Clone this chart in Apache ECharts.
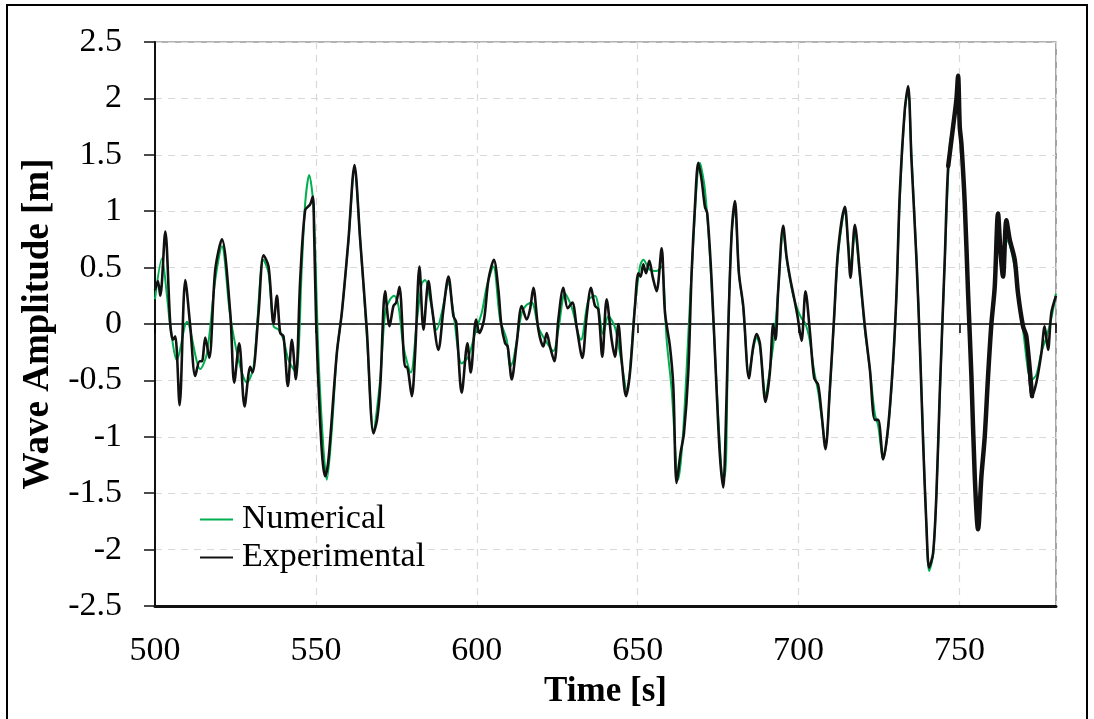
<!DOCTYPE html>
<html>
<head>
<meta charset="utf-8">
<title>Wave Amplitude</title>
<script src="https://cdn.jsdelivr.net/npm/echarts@6/dist/echarts.min.js"></script>
<style>
  html, body { margin: 0; padding: 0; background: #ffffff; }
  #chart { width: 1094px; height: 719px; }
</style>
</head>
<body>
<div id="chart"></div>
<script>
// Numerical wave amplitude time history [s, m]
const numTime = [
  500.0, 502.16, 503.72, 504.75, 506.82, 509.93, 514.07, 516.14, 518.72, 520.79,
  523.38, 526.49, 528.56, 530.63, 533.73, 535.3, 536.84, 538.39, 539.94, 541.5,
  543.77, 545.64, 546.67, 547.91, 549.26, 550.81, 552.36, 553.4, 554.95, 556.5,
  558.06, 560.13, 561.99, 563.75, 565.82, 567.89, 569.96, 571.52, 573.08, 574.32,
  575.66, 577.22, 579.49, 581.36, 582.91, 583.94, 585.5, 587.57, 589.12, 591.19,
  592.74, 595.33, 597.4, 599.47, 601.54, 603.09, 605.16, 607.23, 609.3, 610.34,
  611.37, 613.96, 615.51, 617.07, 619.14, 621.21, 623.79, 625.35, 627.42, 629.49,
  632.38, 634.66, 636.73, 639.32, 640.87, 642.95, 644.51, 646.58, 649.16, 650.72,
  651.75, 653.82, 655.89, 657.44, 658.99, 660.55, 662.62, 664.17, 666.76, 669.35,
  670.9, 672.45, 676.07, 677.11, 678.2, 679.2, 680.2, 681.46, 682.8, 684.56,
  685.91, 686.94, 687.98, 689.74, 691.08, 692.5, 693.67, 695.22, 696.26, 697.29,
  698.33, 699.67, 700.92, 702.16, 703.5, 704.85, 706.09, 707.13, 708.37, 709.71,
  711.06, 712.3, 714.37, 715.42, 716.14, 717.49, 719.04, 720.59, 722.15, 723.7,
  724.73, 726.29, 727.84, 729.39, 730.43, 731.46, 733.01, 734.05, 735.08, 736.64,
  737.67, 738.71, 739.74, 740.57, 741.81, 742.85, 743.88, 745.43, 746.99, 748.02,
  749.05, 749.57, 750.09, 750.6, 751.64, 752.68, 753.71, 754.75, 755.78, 756.82,
  757.85, 758.89, 759.92, 760.96, 761.99, 763.54, 764.58, 765.61, 767.17, 768.2,
  769.75, 772.3, 773.89, 775.45, 777.0, 778.55, 780.0
];
const numValue = [
  0.22, 0.58, 0.25, -0.02, -0.32, 0.02, -0.40, -0.26, 0.39, 0.69,
  0.07, -0.38, -0.52, -0.38, 0.57, 0.45, -0.02, -0.05, -0.14, -0.32,
  -0.43, 0.51, 1.07, 1.32, 1.04, -0.29, -1.11, -1.38, -0.94, -0.26,
  0.10, 0.74, 1.39, 0.75, -0.10, -0.94, -0.50, 0.10, 0.22, 0.25,
  0.16, -0.20, -0.43, 0.02, 0.36, 0.39, 0.22, -0.05, 0.10, 0.36,
  0.10, -0.35, -0.29, -0.08, 0.10, 0.33, 0.51, 0.04, -0.14, -0.38,
  -0.32, 0.10, 0.17, 0.19, -0.03, -0.14, -0.24, -0.05, 0.27, 0.15,
  -0.14, 0.21, 0.25, -0.09, 0.07, -0.03, -0.26, -0.58, 0.16, 0.51,
  0.57, 0.48, 0.47, 0.51, -0.14, -0.58, -1.38, -0.94, 0.45, 1.43,
  1.19, 0.60, -1.32, -1.35, 0.05, 0.80, 1.03, 0.45, 0.14, -0.44,
  -0.22, -0.12, -0.20, -0.63, -0.40, -0.10, 0.30, 0.82, 0.58, 0.40,
  0.25, 0.13, 0.05, 0.00, -0.15, -0.42, -0.60, -0.82, -1.08, -0.60,
  0.05, 0.62, 1.00, 0.72, 0.50, 0.80, 0.42, -0.05, -0.40, -0.80,
  -0.90, -1.20, -0.93, -0.35, 0.25, 1.10, 1.88, 2.08, 1.50, 0.60,
  -0.15, -1.00, -1.80, -2.19, -2.05, -1.50, -0.65, 0.55, 1.60, 1.75,
  1.95, 2.05, 1.80, 1.60, 1.05, 0.25, -0.45, -1.30, -1.78, -1.35,
  -1.00, -0.50, -0.05, 0.30, 0.70, 0.55, 0.75, 0.70, 0.50, 0.30,
  -0.05, -0.50, -0.45, -0.25, -0.12, 0.05, 0.27
];

// Experimental (measured) wave amplitude time history [s, m]
const expTime = [
  500.0, 500.9, 501.65, 503.2, 504.75, 505.58, 506.3, 507.65, 509.41, 510.96,
  512.51, 513.86, 514.58, 515.62, 516.86, 518.72, 520.79, 523.38, 524.62, 526.17,
  527.83, 529.59, 530.31, 532.18, 533.73, 535.29, 536.84, 537.87, 538.91, 539.94,
  541.29, 542.53, 543.77, 545.12, 546.67, 548.22, 549.05, 549.46, 550.09, 551.12,
  552.05, 552.88, 553.71, 554.43, 556.5, 558.06, 560.13, 561.99, 563.75, 565.82,
  567.89, 569.0, 570.0, 571.52, 572.87, 574.11, 574.94, 575.97, 577.73, 578.25,
  579.8, 580.84, 582.18, 583.43, 584.98, 586.01, 588.08, 589.64, 591.19, 592.74,
  593.57, 595.33, 597.09, 598.12, 599.78, 600.81, 602.26, 603.61, 605.3, 606.72,
  607.6, 608.79, 609.61, 610.86, 612.41, 613.96, 615.51, 616.55, 617.58, 619.14,
  620.69, 621.72, 622.76, 624.1, 625.35, 626.9, 628.24, 629.69, 631.04, 632.8,
  634.14, 635.49, 636.73, 637.77, 639.01, 640.35, 641.91, 642.95, 643.99, 645.02,
  646.37, 647.61, 649.16, 650.2, 650.92, 651.75, 652.58, 653.61, 654.65, 655.89,
  657.44, 658.48, 660.03, 661.07, 662.1, 663.34, 664.38, 665.72, 666.76, 667.79,
  668.83, 669.86, 670.9, 671.62, 672.97, 674.52, 675.56, 676.59, 677.2, 678.2,
  679.2, 680.22, 681.46, 682.8, 684.56, 685.91, 686.94, 687.98, 689.74, 691.08,
  692.12, 692.84, 693.67, 695.22, 696.26, 697.29, 698.33, 699.67, 700.92, 702.16,
  703.5, 704.85, 706.09, 707.13, 708.37, 709.71, 711.06, 712.3, 714.38, 715.42,
  716.14, 717.49, 719.04, 720.59, 722.15, 723.7, 724.73, 726.29, 727.84, 729.39,
  730.43, 731.46, 733.01, 734.05, 735.08, 736.64, 737.67, 738.71, 739.74, 740.57,
  741.81, 742.85, 743.88, 745.43, 746.5, 748.02, 749.05, 749.57, 750.09, 750.6,
  751.64, 752.68, 753.71, 754.75, 755.78, 756.82, 757.85, 758.89, 759.92, 760.96,
  761.99, 762.71, 763.54, 764.58, 765.61, 767.17, 768.2, 769.75, 770.79, 772.55,
  773.89, 775.45, 776.48, 777.52, 778.55, 780.0
];
const expValue = [
  0.30, 0.38, 0.25, 0.82, 0.00, -0.14, -0.11, -0.72, 0.39, -0.02,
  -0.46, -0.33, -0.33, -0.12, -0.30, 0.48, 0.75, 0.10, -0.52, -0.17,
  -0.73, -0.38, -0.43, 0.10, 0.61, 0.51, 0.00, 0.25, -0.08, -0.11,
  -0.55, -0.14, -0.49, 0.39, 1.01, 1.06, 1.13, 0.80, 0.00, -0.75,
  -1.20, -1.35, -1.25, -1.03, -0.26, 0.10, 0.75, 1.41, 0.75, -0.05,
  -0.97, -0.85, -0.55, 0.29, -0.02, 0.16, 0.19, 0.33, -0.38, -0.38,
  -0.64, -0.26, 0.51, -0.05, 0.38, 0.16, -0.23, 0.13, 0.42, 0.07,
  0.02, -0.61, -0.17, -0.43, 0.04, -0.08, 0.04, 0.39, 0.57, 0.30,
  0.00, -0.17, -0.20, -0.49, -0.17, 0.16, 0.04, 0.13, 0.32, -0.05,
  -0.20, -0.08, -0.20, -0.33, 0.04, 0.32, 0.14, 0.19, -0.03, -0.30,
  0.07, 0.32, 0.16, 0.13, -0.29, 0.22, -0.14, -0.29, 0.00, -0.32,
  -0.64, -0.43, 0.16, 0.45, 0.42, 0.53, 0.45, 0.56, 0.42, 0.29,
  0.67, 0.10, -0.20, -0.55, -1.41, -1.14, -0.97, -0.43, 0.45, 1.04,
  1.43, 1.28, 1.04, 0.98, 0.39, -0.58, -1.17, -1.45, -1.10, 0.00,
  0.80, 1.09, 0.45, 0.16, -0.48, -0.20, -0.09, -0.17, -0.69, -0.43,
  0.00, -0.14, 0.30, 0.87, 0.60, 0.42, 0.27, 0.07, -0.15, 0.29,
  -0.06, -0.48, -0.54, -0.79, -1.11, -0.58, 0.07, 0.66, 1.04, 0.69,
  0.41, 0.88, 0.45, -0.02, -0.40, -0.85, -0.85, -1.20, -0.91, -0.32,
  0.27, 1.16, 1.90, 2.11, 1.46, 0.57, -0.17, -1.05, -1.79, -2.16,
  -2.03, -1.50, -0.61, 0.57, 1.40, 1.75, 1.99, 2.20, 1.75, 1.60,
  1.07, 0.27, -0.46, -1.35, -1.82, -1.35, -1.00, -0.46, 0.00, 0.33,
  0.98, 0.66, 0.42, 0.92, 0.75, 0.57, 0.27, -0.02, -0.11, -0.64,
  -0.52, -0.26, -0.02, -0.23, 0.10, 0.25
];

// Stretch of the measurement with dense high-frequency content (drawn heavier)
const noisyStart = 746.5;
const noisyEnd = 772.6;

const zip = (xs, ys) => xs.map((x, i) => [x, ys[i]]);
const numData = zip(numTime, numValue);
const expData = zip(expTime, expValue);
const expNoisy = expData.filter(p => p[0] >= noisyStart && p[0] <= noisyEnd);

const serif = '"Liberation Serif", "Times New Roman", serif';
const GREEN = '#00b050';
const BLACK = '#111111';

const chart = echarts.init(document.getElementById('chart'), null, { renderer: 'canvas' });

chart.setOption({
  backgroundColor: '#ffffff',
  animation: false,
  textStyle: { fontFamily: serif, color: '#000' },
  graphic: [{
    type: 'rect',
    shape: { x: 7, y: 5, width: 1080, height: 740 },
    style: { fill: 'none', stroke: '#000', lineWidth: 2 },
    silent: true,
    z: 100
  }],
  grid: {
    left: 155, right: 38, top: 42, bottom: 113,
    show: true, borderColor: '#666', borderWidth: 1.2, backgroundColor: 'transparent'
  },
  legend: {
    orient: 'vertical',
    left: 195,
    top: 497,
    itemWidth: 33,
    itemHeight: 2,
    itemGap: 3,
    icon: 'rect',
    data: ['Numerical', 'Experimental'],
    textStyle: { fontFamily: serif, fontSize: 34, color: '#000', lineHeight: 35, padding: [0, 0, 0, 4] }
  },
  xAxis: [{
    type: 'value',
    min: 500, max: 780, interval: 50,
    name: 'Time [s]',
    nameLocation: 'middle',
    nameGap: 68,
    nameTextStyle: { fontFamily: serif, fontSize: 35, fontWeight: 'bold', color: '#000' },
    axisLine: { onZero: false, lineStyle: { color: '#111', width: 3 } },
    axisTick: { show: false },
    axisLabel: { fontFamily: serif, fontSize: 34, color: '#000', margin: 28, showMaxLabel: false },
    splitLine: { show: true, lineStyle: { color: '#d9d9d9', type: [7, 6], width: 1.2 } }
  }, {
    // zero reference line with its tick marks
    type: 'value',
    min: 500, max: 780, interval: 50,
    position: 'top',
    axisLine: { onZero: true, lineStyle: { color: '#000', width: 1.5 } },
    axisTick: { show: true, inside: true, length: 9, lineStyle: { color: '#000', width: 1.5 } },
    axisLabel: { show: false },
    splitLine: { show: false }
  }],
  yAxis: {
    type: 'value',
    min: -2.5, max: 2.5, interval: 0.5,
    name: 'Wave Amplitude [m]',
    nameLocation: 'middle',
    nameGap: 86,
    nameTextStyle: { fontFamily: serif, fontSize: 37, fontWeight: 'bold', color: '#000' },
    axisLine: { show: true, onZero: false, lineStyle: { color: '#111', width: 2 } },
    axisTick: { show: true, length: 11, lineStyle: { color: '#111', width: 1.5 } },
    axisLabel: { fontFamily: serif, fontSize: 34, color: '#000', margin: 33 },
    splitLine: { show: true, lineStyle: { color: '#d9d9d9', type: [7, 6], width: 1.2 } }
  },
  series: [{
    name: 'Numerical',
    type: 'line',
    data: numData,
    showSymbol: false,
    smooth: 0.3,
    lineStyle: { color: GREEN, width: 2 },
    itemStyle: { color: GREEN },
    z: 3
  }, {
    name: 'Experimental',
    type: 'line',
    data: expData,
    showSymbol: false,
    smooth: 0.3,
    lineStyle: { color: BLACK, width: 2.6 },
    itemStyle: { color: BLACK },
    z: 4
  }, {
    name: 'Experimental',
    type: 'line',
    data: expNoisy,
    showSymbol: false,
    smooth: 0.3,
    lineStyle: { color: BLACK, width: 4.5, cap: 'round', join: 'round' },
    itemStyle: { color: BLACK },
    z: 4
  }]
});
</script>
</body>
</html>
